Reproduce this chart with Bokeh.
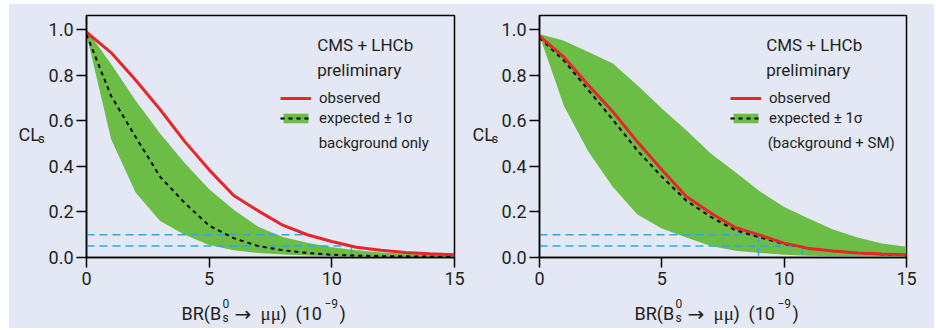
from bokeh.plotting import figure
from bokeh.layouts import row, column
from bokeh.models import (Range1d, FixedTicker, PrintfTickFormatter, Label,
                          Legend, LegendItem)
from bokeh.core.properties import value
from bokeh.embed import file_html
from bokeh.resources import INLINE

# ---------------- data ----------------
br = list(range(16))  # BR(Bs -> mumu) in 1e-9

# left panel: background only hypothesis
obs_bkg = [0.99, 0.90, 0.78, 0.65, 0.51, 0.385, 0.272, 0.205, 0.142, 0.10,
           0.07, 0.045, 0.032, 0.022, 0.016, 0.012]
exp_bkg = [0.98, 0.71, 0.53, 0.355, 0.24, 0.14, 0.085, 0.05, 0.032, 0.02,
           0.012, 0.008, 0.006, 0.005, 0.004, 0.003]
hi_bkg = [1.0, 0.85, 0.69, 0.545, 0.415, 0.30, 0.21, 0.135, 0.09, 0.065,
          0.045, 0.032, 0.022, 0.016, 0.012, 0.01]
lo_bkg = [0.98, 0.52, 0.285, 0.16, 0.10, 0.055, 0.032, 0.02, 0.013, 0.009,
          0.006, 0.004, 0.003, 0.003, 0.002, 0.002]

# right panel: background + SM hypothesis
obs_sm = [0.972, 0.88, 0.757, 0.64, 0.508, 0.385, 0.268, 0.195, 0.132, 0.098,
          0.063, 0.04, 0.029, 0.02, 0.015, 0.012]
exp_sm = [0.965, 0.865, 0.735, 0.605, 0.47, 0.355, 0.25, 0.178, 0.12, 0.088,
          0.06, 0.04, 0.028, 0.02, 0.014, 0.01]
hi_sm = [0.982, 0.952, 0.903, 0.852, 0.757, 0.655, 0.559, 0.457, 0.376, 0.291,
         0.222, 0.171, 0.123, 0.088, 0.061, 0.047]
lo_sm = [0.975, 0.665, 0.464, 0.31, 0.189, 0.127, 0.088, 0.05, 0.03, 0.02,
         0.012, 0.008, 0.006, 0.005, 0.004, 0.003]

cl_levels = [0.10, 0.05]
limits_bkg = [9.0, 10.8]
drops_bkg = [False, True]
limits_sm = [8.95, 10.75]
drops_sm = [True, True]

x_ticks = [0, 5, 10, 15]
y_ticks = [0.0, 0.2, 0.4, 0.6, 0.8, 1.0]

# ---------------- style ----------------
BG = "#e4e8f4"
RED = "#e8262a"
GREEN = "#6cbd45"
CYAN = "#29abe2"
INK = "#231f20"
FONT = "Roboto"
SERIF = "Liberation Serif"
ARROWFONT = "DejaVu Sans"
X_MAX = 15
Y_MAX = 1.063
FRAME_W = 369
FRAME_H = 242
TOP = 11
BOTTOM = 37
MAIN_H = TOP + FRAME_H + BOTTOM      # 290
XLAB_H = 34
BGSTYLE = {"background-color": BG}


def text_strip(width, height, items):
    """A small frameless figure in pixel units holding composite labels."""
    f = figure(width=width, height=height, x_range=Range1d(0, width),
               y_range=Range1d(height, 0), output_backend="svg",
               toolbar_location=None, min_border=0,
               x_axis_location=None, y_axis_location=None,
               background_fill_color=BG, border_fill_color=BG)
    f.outline_line_color = None
    f.grid.visible = False
    for x, y, txt, size, font in items:
        f.text(x=[x], y=[y], text=[txt], text_font=value(font),
               text_font_size=f"{size}px", text_color=INK,
               text_baseline="alphabetic", text_align="left")
    return f


def panel(width, left, right, obs, exp, lo, hi, limits, drops, note,
          legend_x, text_x):
    p = figure(width=width, height=MAIN_H,
               x_range=Range1d(0, X_MAX), y_range=Range1d(0, Y_MAX),
               output_backend="svg", toolbar_location=None,
               min_border_left=left, min_border_right=right,
               min_border_top=TOP, min_border_bottom=BOTTOM,
               background_fill_color=BG, border_fill_color=BG)
    p.grid.visible = False
    p.outline_line_color = "black"
    p.outline_line_width = 1.5

    for ax in (p.xaxis[0], p.yaxis[0]):
        ax.axis_line_width = 1.5
        ax.axis_line_color = "black"
        ax.major_tick_line_width = 1.5
        ax.major_tick_out = 10
        ax.major_tick_in = 0
        ax.minor_tick_out = 0
        ax.minor_tick_in = 0
        ax.major_label_text_font = FONT
        ax.major_label_text_font_size = "18px"
        ax.major_label_text_color = INK
    p.xaxis.ticker = FixedTicker(ticks=x_ticks)
    p.yaxis.ticker = FixedTicker(ticks=y_ticks)
    p.xaxis.formatter = PrintfTickFormatter(format="%d")
    p.yaxis.formatter = PrintfTickFormatter(format="%.1f")
    p.xaxis.major_label_standoff = 4
    p.yaxis.major_label_standoff = 3

    band = p.varea(x=br, y1=lo, y2=hi, fill_color=GREEN)
    for lev, lim, drop in zip(cl_levels, limits, drops):
        p.line([0, lim], [lev, lev], line_color=CYAN, line_width=1.5,
               line_dash="8 5")
        if drop:
            p.line([lim, lim], [lev, 0], line_color=CYAN, line_width=1.5,
                   line_dash="8 5")
    dots = p.line(br, exp, line_color="black", line_width=2, line_dash="4 4")
    r_obs = p.line(br, obs, line_color=RED, line_width=3)

    legend = Legend(items=[LegendItem(label="observed", renderers=[r_obs]),
                           LegendItem(label="expected ± 1σ",
                                      renderers=[band, dots])],
                    location=(legend_x, 129))
    legend.background_fill_alpha = 0
    legend.border_line_alpha = 0
    legend.padding = 0
    legend.margin = 0
    legend.spacing = 0
    legend.label_height = 20
    legend.glyph_height = 12
    legend.glyph_width = 31
    legend.label_standoff = 8
    legend.label_text_font = FONT
    legend.label_text_font_size = "15px"
    legend.label_text_color = INK
    p.add_layout(legend)

    def lab(xoff, ycanvas, text, size):
        p.add_layout(Label(x=left + xoff, y=ycanvas,
                           x_units="canvas", y_units="canvas",
                           text=text, text_font=FONT,
                           text_font_size=f"{size}px", text_color=INK,
                           text_baseline="alphabetic", text_align="left"))

    lab(text_x, 40, "CMS + LHCb", 17)
    lab(text_x, 65, "preliminary", 17)
    lab(text_x + 1.5, 138, note, 15)
    return p


def xlabel_items(x0):
    # BR(B_s^0 -> mumu) (10^-9), pieces placed from the left offset x0
    return [(x0, 19, "BR(B", 18, FONT),
            (x0 + 41, 9, "0", 12, FONT),
            (x0 + 41, 23, "s", 12, FONT),
            (x0 + 53, 19, "→", 20, ARROWFONT),
            (x0 + 79, 19, "μμ", 19, SERIF),
            (x0 + 99, 19, ")", 18, FONT),
            (x0 + 114, 19, "(10", 18, FONT),
            (x0 + 143, 9, "−9", 12, FONT),
            (x0 + 158, 19, ")", 18, FONT)]


# left panel (page x 9..468)
strip1 = text_strip(36, MAIN_H, [(9, 142.7, "CL", 18, FONT),
                                 (28.5, 147.5, "s", 13, FONT)])
main1 = panel(423, 40, 14, obs_bkg, exp_bkg, lo_bkg, hi_bkg, limits_bkg,
              drops_bkg, "background only", 194, 231.7)
xlab1 = text_strip(459, XLAB_H, xlabel_items(172))

# right panel (page x 468..934)
strip2 = text_strip(30, MAIN_H, [(4, 142.7, "CL", 18, FONT),
                                 (23, 147.5, "s", 13, FONT)])
main2 = panel(436, 39, 28, obs_sm, exp_sm, lo_sm, hi_sm, limits_sm,
              drops_sm, "(background + SM)", 191, 228.7)
xlab2 = text_strip(466, XLAB_H, xlabel_items(166))

left_col = column(row(strip1, main1, styles=BGSTYLE), xlab1, styles=BGSTYLE)
right_col = column(row(strip2, main2, styles=BGSTYLE), xlab2, styles=BGSTYLE)
p = row(left_col, right_col, margin=(4, 2, 2, 9), styles=BGSTYLE)
open("out.html", "w").write(file_html(p, INLINE))
